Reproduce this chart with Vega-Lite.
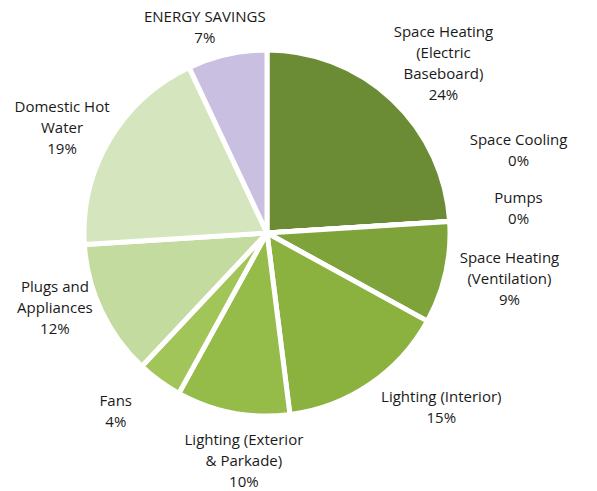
{
  "$schema": "https://vega.github.io/schema/vega-lite/v6.json",
  "width": 534,
  "height": 466,
  "autosize": {"type": "none"},
  "padding": {"left": 0, "top": 0, "right": 63, "bottom": 25},
  "background": "white",
  "view": {"stroke": null},
  "data": {
    "values": [
      {"rank": 1, "category": "Space Heating (Electric Baseboard)", "value": 24, "label": "Space Heating\n(Electric\nBaseboard)\n24%"},
      {"rank": 2, "category": "Space Cooling", "value": 0, "label": "Space Cooling\n0%"},
      {"rank": 3, "category": "Pumps", "value": 0, "label": "Pumps\n0%"},
      {"rank": 4, "category": "Space Heating (Ventilation)", "value": 9, "label": "Space Heating\n(Ventilation)\n9%"},
      {"rank": 5, "category": "Lighting (Interior)", "value": 15, "label": "Lighting (Interior)\n15%"},
      {"rank": 6, "category": "Lighting (Exterior & Parkade)", "value": 10, "label": "Lighting (Exterior\n& Parkade)\n10%"},
      {"rank": 7, "category": "Fans", "value": 4, "label": "Fans\n4%"},
      {"rank": 8, "category": "Plugs and Appliances", "value": 12, "label": "Plugs and\nAppliances\n12%"},
      {"rank": 9, "category": "Domestic Hot Water", "value": 19, "label": "Domestic Hot\nWater\n19%"},
      {"rank": 10, "category": "ENERGY SAVINGS", "value": 7, "label": "ENERGY SAVINGS\n7%"}
    ]
  },
  "encoding": {
    "theta": {"field": "value", "type": "quantitative", "stack": true},
    "order": {"field": "rank", "type": "quantitative"}
  },
  "layer": [
    {
      "mark": {"type": "arc", "outerRadius": 183, "stroke": "white", "strokeWidth": 5},
      "encoding": {
        "color": {
          "field": "category",
          "type": "nominal",
          "legend": null,
          "scale": {
            "domain": ["Space Heating (Electric Baseboard)", "Space Cooling", "Pumps", "Space Heating (Ventilation)", "Lighting (Interior)", "Lighting (Exterior & Parkade)", "Fans", "Plugs and Appliances", "Domestic Hot Water", "ENERGY SAVINGS"],
            "range": ["#6b8c35", "#7a9a3a", "#7a9a3a", "#7ea33a", "#8bb13f", "#95bb48", "#a2c55a", "#c4db9f", "#d5e5bd", "#c9bfe0"]
          }
        }
      }
    },
    {
      "mark": {
        "type": "text",
        "radius": 230,
        "font": "Open Sans",
        "fontSize": 15,
        "lineHeight": 21,
        "lineBreak": "\n",
        "align": "center",
        "baseline": "middle",
        "fill": "#1a1a1a",
        "dx": {"expr": "datum.category === 'ENERGY SAVINGS' ? -12 : datum.category === 'Space Heating (Electric Baseboard)' ? 19 : datum.category === 'Space Cooling' ? 22 : datum.category === 'Pumps' ? 22 : datum.category === 'Space Heating (Ventilation)' ? 18 : datum.category === 'Lighting (Interior)' ? 45 : datum.category === 'Lighting (Exterior & Parkade)' ? 20 : datum.category === 'Fans' ? -16 : datum.category === 'Plugs and Appliances' ? -4 : -7"},
        "dy": {"expr": "datum.category === 'ENERGY SAVINGS' ? 8 : datum.category === 'Space Heating (Electric Baseboard)' ? -33 : datum.category === 'Space Cooling' ? -79 : datum.category === 'Pumps' ? -21 : datum.category === 'Space Heating (Ventilation)' ? -25 : datum.category === 'Lighting (Interior)' ? -26 : datum.category === 'Lighting (Exterior & Parkade)' ? -19 : datum.category === 'Fans' ? -18 : datum.category === 'Plugs and Appliances' ? -44 : -9"}
      },
      "encoding": {
        "text": {"field": "label", "type": "nominal"}
      }
    }
  ]
}
